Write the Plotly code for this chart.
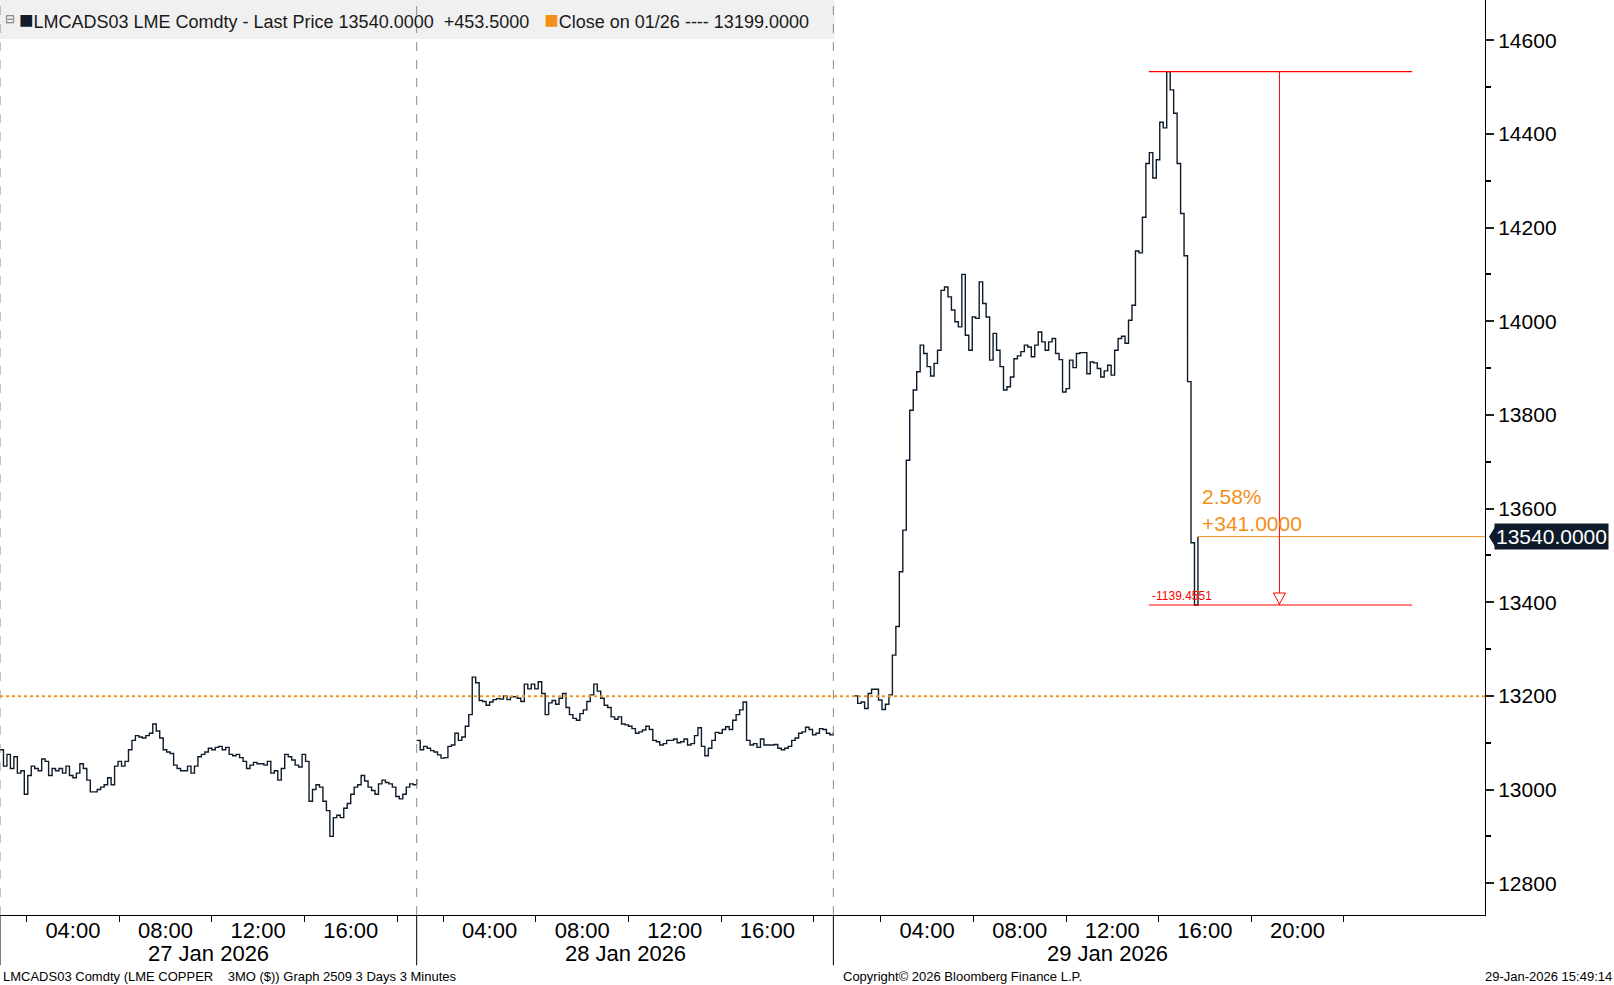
import plotly.graph_objects as go

# LME copper 3M, 9-minute bars, three sessions
day_labels = ["27 Jan 2026", "28 Jan 2026", "29 Jan 2026"]
day_offsets = [-0.85, 17.15, 36.05]   # axis position (hours) of 00:00 on each day
open_hour = 0.85                      # first bar 00:51
bar_step = 0.15                       # 9 minutes

px_27 = [
    13085, 13050, 13075, 13045, 13070, 13035, 13040, 12990, 13030, 13050,
    13045, 13040, 13065, 13060, 13030, 13045, 13040, 13045, 13035, 13050,
    13030, 13025, 13035, 13055, 13045, 13020, 12995, 12995, 13000, 13005,
    13010, 13025, 13010, 13050, 13060, 13050, 13060, 13085, 13105, 13115,
    13112, 13110, 13115, 13120, 13140, 13125, 13110, 13085, 13080, 13077,
    13052, 13045, 13040, 13040, 13050, 13035, 13050, 13070, 13075, 13080,
    13088, 13085, 13090, 13092, 13085, 13090, 13075, 13072, 13075, 13068,
    13060, 13045, 13052, 13058, 13055, 13055, 13052, 13060, 13035, 13040,
    13020, 13045, 13075, 13070, 13063, 13052, 13048, 13075, 13060, 12975,
    13000, 13010, 13005, 12975, 12955, 12900, 12940, 12945, 12940, 12960,
    12970, 12990, 13005, 13010, 13030, 13018, 13005, 12998, 12990, 13012,
    13020, 13015, 13012, 13005, 12985, 12980, 12990, 13005, 13012, 13010,
    13022,
]
px_28 = [
    13105, 13085, 13092, 13088, 13083, 13080, 13074, 13067, 13068, 13092,
    13095, 13120, 13105, 13112, 13135, 13160, 13240, 13228, 13190, 13188,
    13180, 13187, 13192, 13194, 13193, 13200, 13192, 13198, 13198, 13195,
    13188, 13225, 13215, 13225, 13215, 13230, 13205, 13160, 13185, 13190,
    13182, 13195, 13205, 13175, 13160, 13152, 13148, 13162, 13170, 13188,
    13202, 13225, 13210, 13195, 13180, 13175, 13155, 13150, 13155, 13140,
    13138, 13135, 13130, 13120, 13123, 13127, 13135, 13128, 13105, 13102,
    13095, 13098, 13105, 13105, 13108, 13100, 13102, 13108, 13095, 13098,
    13115, 13132, 13092, 13072, 13088, 13105, 13122, 13120, 13128, 13134,
    13128, 13148, 13160, 13170, 13187, 13105, 13095, 13098, 13090, 13108,
    13095, 13095, 13095, 13096, 13088, 13085, 13088, 13092, 13105, 13110,
    13120, 13123, 13133, 13128, 13117, 13120, 13130, 13128, 13120, 13117,
    13122,
]
px_29 = [
    13200, 13184, 13187, 13173, 13205, 13214, 13214, 13191, 13171, 13182,
    13202, 13287, 13348, 13465, 13554, 13703, 13810, 13853, 13892, 13949,
    13931, 13903, 13883, 13910, 13938, 14066, 14073, 14052, 14024, 13999,
    13988, 14100, 13970, 13938, 14009, 14006, 14084, 14038, 14009, 13917,
    13974, 13938, 13903, 13853, 13860, 13881, 13920, 13926, 13935, 13949,
    13945, 13924, 13949, 13977, 13956, 13938, 13956, 13963, 13931, 13918,
    13849, 13856, 13917, 13901, 13931, 13933, 13933, 13888, 13913, 13911,
    13899, 13881, 13894, 13906, 13885, 13938, 13963, 13968, 13953, 14002,
    14034, 14150, 14146, 14222, 14337, 14360, 14306, 14345, 14425, 14413,
    14533, 14494, 14444, 14337, 14230, 14140, 13871, 13527, 13394, 13540,
]
prev_close = 13199.0
last_change = "+453.5000"
drawdown_text = "-1139.4551"

hour_labels = ["04:00", "08:00", "12:00", "16:00"]
hour_labels_today = ["04:00", "08:00", "12:00", "16:00", "20:00"]

FONT = "Liberation Sans, Arial, sans-serif"
NAVY = "#0d1b2a"
ORANGE = "#f39019"
RED = "#ff0000"

x_all, y_all = [], []
for off, prices in zip(day_offsets, [px_27, px_28, px_29]):
    x_day = [off + open_hour + i * bar_step for i in range(len(prices))]
    x_all += x_day + [None]
    y_all += prices + [None]
x_all, y_all = x_all[:-1], y_all[:-1]

last_x = x_all[-1]
last_price = px_29[-1]
peak = max(px_29)
trough = min(px_29[px_29.index(peak):])

fig = go.Figure()
fig.add_trace(go.Scatter(
    x=x_all, y=y_all, mode="lines", line=dict(color=NAVY, width=1.4, shape="hv"),
    connectgaps=False, showlegend=False, hoverinfo="skip",
))

# x ticks: labels at 4h, small ticks between them
tickvals, ticktext, minor_vals = [], [], []
for d, off in enumerate(day_offsets):
    labels = hour_labels_today if d == 2 else hour_labels
    for lab in labels:
        tickvals.append(off + int(lab[:2]))
        ticktext.append(lab)
    for h in ([2, 6, 10, 14, 18, 22] if d == 2 else [2, 6, 10, 14, 18]):
        minor_vals.append(off + h)

X_MAX = 64.15
shapes = []
# legend band
shapes.append(dict(type="rect", xref="x", yref="paper", x0=0, x1=day_offsets[2],
                   y0=1 - 39 / 915, y1=1, fillcolor="#f0f0f0", line=dict(width=0), layer="below"))
# day separators
for sx in [0, 18.0, 36.0]:
    shapes.append(dict(type="line", xref="x", yref="paper", x0=sx, x1=sx, y0=0, y1=1,
                       line=dict(color="#8c8c8c", width=1, dash="dash")))
    shapes.append(dict(type="line", xref="x", yref="paper", x0=sx, x1=sx, y0=-0.055, y1=0,
                       line=dict(color="black", width=1)))
# previous close
shapes.append(dict(type="line", xref="x", yref="y", x0=0, x1=X_MAX, y0=prev_close, y1=prev_close,
                   line=dict(color=ORANGE, width=2, dash="dot")))
# last price
shapes.append(dict(type="line", xref="x", yref="y", x0=last_x, x1=X_MAX, y0=last_price, y1=last_price,
                   line=dict(color=ORANGE, width=1)))
# high-low measurement
mx0, mx1, mxv = 49.63, 61.0, 55.27
for lv in [peak, trough]:
    shapes.append(dict(type="line", xref="x", yref="y", x0=mx0, x1=mx1, y0=lv, y1=lv,
                       line=dict(color=RED, width=1.2)))
shapes.append(dict(type="line", xref="x", yref="y", x0=mxv, x1=mxv, y0=peak, y1=trough,
                   line=dict(color=RED, width=1)))
shapes.append(dict(type="path", xref="x", yref="y", xsizemode="pixel", ysizemode="pixel",
                   xanchor=mxv, yanchor=trough, path="M -6 12 L 6 12 L 0 1 Z",
                   fillcolor="white", line=dict(color=RED, width=1)))
# last price tag pointer
shapes.append(dict(type="path", xref="paper", yref="y", xsizemode="pixel", ysizemode="pixel",
                   xanchor=1, yanchor=last_price, path="M 4 0 L 12 13 L 12 -13 Z",
                   fillcolor=NAVY, line=dict(width=0)))

ann = []
for d, lab in enumerate(day_labels):
    cx = [9.0, 27.0, 47.85][d]
    ann.append(dict(x=cx, y=-39 / 915, xref="x", yref="paper", text=lab, showarrow=False,
                    font=dict(size=22, color="black", family=FONT), yanchor="middle"))
ann.append(dict(x=1, y=last_price, xref="paper", yref="y", xanchor="left", xshift=9,
                text="%.4f" % last_price, showarrow=False, bgcolor=NAVY, borderpad=1,
                font=dict(size=21, color="white", family=FONT)))
chg = last_price - prev_close
ann.append(dict(x=last_x, y=last_price, xref="x", yref="y", xanchor="left", yanchor="bottom",
                xshift=2, yshift=0, align="left", showarrow=False,
                text="%.2f%%<br>%+.4f" % (chg / prev_close * 100, chg),
                font=dict(size=21, color=ORANGE, family=FONT)))
ann.append(dict(x=mx0, y=trough, xref="x", yref="y", xanchor="left", yanchor="bottom",
                xshift=1, yshift=0, text=drawdown_text, showarrow=False,
                font=dict(size=12, color=RED, family=FONT)))
sq = '<span style="color:%s;font-size:24px">■</span>'
legend_txt = ((sq % NAVY) + 'LMCADS03 LME Comdty - Last Price %.4f\u00a0\u00a0%s\u00a0\u00a0\u00a0'
              % (last_price, last_change)
              + (sq % ORANGE) + 'Close on 01/26 ---- %.4f' % prev_close)
ann.append(dict(x=0, y=1 - 19.5 / 915, xref="paper", yref="paper", xanchor="left", yanchor="middle",
                xshift=17, text=legend_txt, showarrow=False,
                font=dict(size=18, color="#1a1a1a", family=FONT)))
ann.append(dict(x=0, y=1 - 19.5 / 915, xref="paper", yref="paper", xanchor="left", yanchor="middle",
                xshift=3, text="⊟", showarrow=False, font=dict(size=12, color="#777777", family=FONT)))
foot_y = -61 / 915
ann.append(dict(x=0, y=foot_y, xref="paper", yref="paper", xanchor="left", yanchor="middle", xshift=1,
                text="LMCADS03 Comdty (LME COPPER\u00a0\u00a0\u00a0\u00a03MO ($)) Graph 2509 3 Days 3 Minutes",
                showarrow=False, font=dict(size=13, color="black", family=FONT)))
ann.append(dict(x=841 / 1485, y=foot_y, xref="paper", yref="paper", xanchor="left", yanchor="middle",
                text="Copyright© 2026 Bloomberg Finance L.P.", showarrow=False,
                font=dict(size=13, color="black", family=FONT)))
ann.append(dict(x=1614 / 1485, y=foot_y, xref="paper", yref="paper", xanchor="right", yanchor="middle",
                text="29-Jan-2026 15:49:14", showarrow=False,
                font=dict(size=13, color="black", family=FONT)))

fig.update_layout(
    width=1614, height=985,
    margin=dict(l=0, r=129, t=0, b=70),
    paper_bgcolor="white", plot_bgcolor="white",
    font=dict(family=FONT, color="black"),
    showlegend=False,
    shapes=shapes, annotations=ann,
    xaxis=dict(range=[0, X_MAX], tickmode="array", tickvals=tickvals, ticktext=ticktext,
               ticks="", showgrid=False, zeroline=False, showline=True, linecolor="black",
               linewidth=1, tickfont=dict(size=22, family=FONT), ticklabelstandoff=-4,
               minor=dict(tickmode="array", tickvals=minor_vals, ticks="outside", ticklen=6,
                          tickcolor="black", showgrid=False)),
    yaxis=dict(range=[12732, 14686], side="right", tickmode="linear", tick0=12800, dtick=200,
               tickformat="d", ticks="outside", ticklen=8, tickwidth=2, tickcolor="#222222",
               showgrid=False, zeroline=False, showline=True, linecolor="black", linewidth=1,
               tickfont=dict(size=21, family=FONT),
               minor=dict(dtick=100, ticks="outside", ticklen=5, tickcolor="black", showgrid=False)),
)

fig.write_html("out.html", config={"displayModeBar": False},
               post_script="document.body.style.margin='0';")
